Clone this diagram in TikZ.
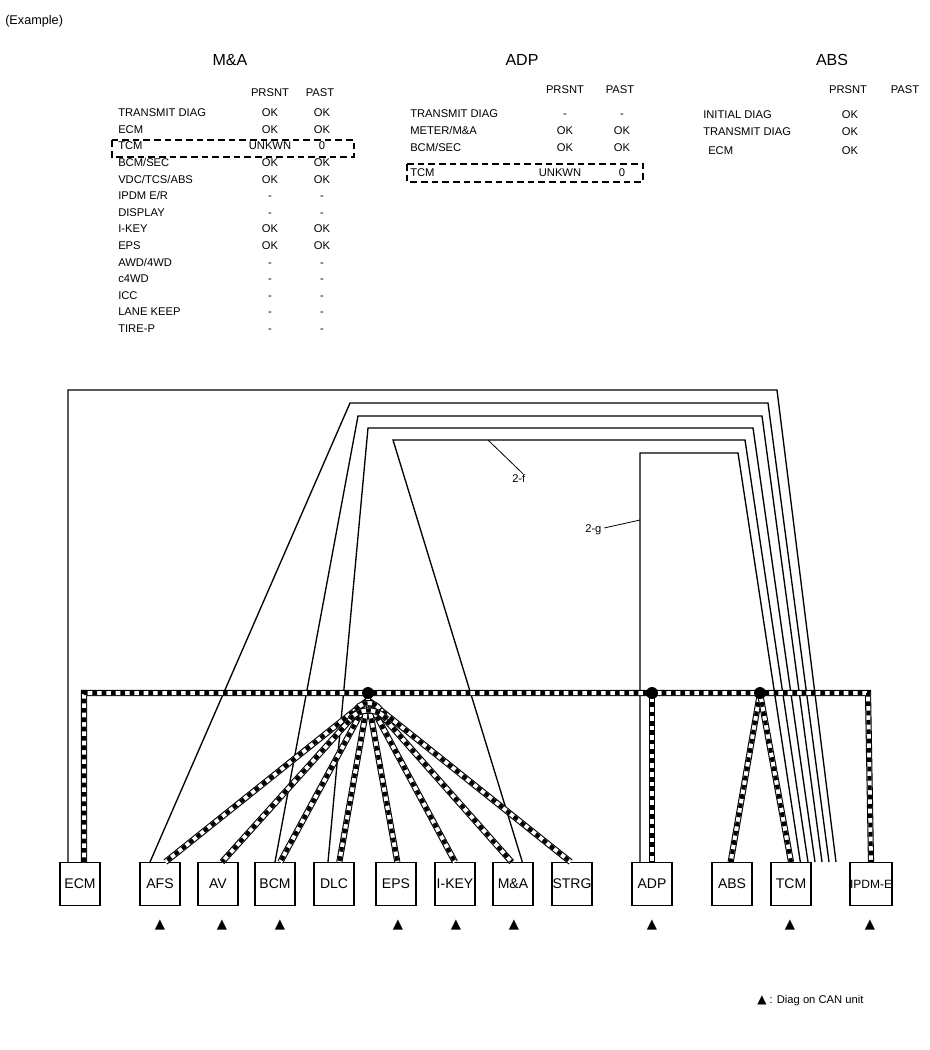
\documentclass[tikz,border=0pt]{standalone}
\usepackage{fontspec}
\setmainfont{Liberation Sans}
\newfontfamily\symf{DejaVu Sans}
\begin{document}
\begin{tikzpicture}[x=0.75pt,y=-0.75pt,
  tt/.style={font=\fontsize{8.4}{9}\selectfont,anchor=base west,inner sep=0},
  tc/.style={font=\fontsize{8.4}{9}\selectfont,anchor=base,inner sep=0},
  hd/.style={font=\fontsize{12}{13}\selectfont,anchor=base,inner sep=0},
  unit/.style={draw,line width=0.8pt,minimum width=30pt,minimum height=32pt,inner sep=0pt,font=\fontsize{10.5}{12}\selectfont},
  tri/.style={font=\symf\fontsize{10}{10}\selectfont,inner sep=0},
  wire/.style={line width=1pt},
  bus/.style={preaction={draw,black,line width=4.6pt},white,line width=3pt,
     postaction={draw,black,line width=3pt,dash pattern=on 3.5pt off 3.5pt}},
  dbox/.style={draw,line width=1.3pt,dash pattern=on 5pt off 3pt},
  dot/.style={circle,fill=black,inner sep=0,minimum size=9pt}]
\useasboundingbox (0,0) rectangle (930,1050);
\node[anchor=base west,inner sep=0,font=\fontsize{9.5}{11}\selectfont] (ex) at (5,24) {(Example)};
% M&A table
\node[hd] (hma) at (230,65) {M\&A};
\node[tc] (ma0a) at (270,96) {PRSNT}; \node[tc] (ma0b) at (320,96) {PAST};
\foreach \n/\a/\b [count=\i] in {{TRANSMIT DIAG}/OK/OK,ECM/OK/OK,TCM/UNKWN/0,{BCM/SEC}/OK/OK,{VDC/TCS/ABS}/OK/OK,{IPDM E/R}/-/-,DISPLAY/-/-,I-KEY/OK/OK,EPS/OK/OK,{AWD/4WD}/-/-,c4WD/-/-,ICC/-/-,LANE KEEP/-/-,TIRE-P/-/-}{
  \node[tt] (man\i) at (118,100+16.6*\i) {\n};
  \node[tc] (maa\i) at (270,100+16.6*\i) {\a};
  \node[tc] (mab\i) at (322,100+16.6*\i) {\b};}
\draw[dbox] (112,140) rectangle (354,157);
% ADP table
\node[hd] (hadp) at (522,65) {ADP};
\node[tc] (ad0a) at (565,93) {PRSNT}; \node[tc] (ad0b) at (620,93) {PAST};
\node[tt] (ad1) at (410,117) {TRANSMIT DIAG}; \node[tc] (ad1a) at (565,117) {-}; \node[tc] (ad1b) at (622,117) {-};
\node[tt] (ad2) at (410,134) {METER/M\&A}; \node[tc] (ad2a) at (565,134) {OK}; \node[tc] (ad2b) at (622,134) {OK};
\node[tt] (ad3) at (410,151) {BCM/SEC}; \node[tc] (ad3a) at (565,151) {OK}; \node[tc] (ad3b) at (622,151) {OK};
\node[tt] (ad4) at (410,176) {TCM}; \node[tc] (ad4a) at (560,176) {UNKWN}; \node[tc] (ad4b) at (622,176) {0};
\draw[dbox] (407,164) rectangle (643,182);
% ABS table
\node[hd] (habs) at (832,65) {ABS};
\node[tc] (ab0a) at (848,93) {PRSNT}; \node[tc] (ab0b) at (905,93) {PAST};
\node[tt] (ab1) at (703,118) {INITIAL DIAG}; \node[tc] (ab1a) at (850,118) {OK};
\node[tt] (ab2) at (703,135) {TRANSMIT DIAG}; \node[tc] (ab2a) at (850,135) {OK};
\node[tt] (ab3) at (708,154) {ECM}; \node[tc] (ab3a) at (850,154) {OK};
% units
\foreach \nm/\lab/\x in {ecm/ECM/80,afs/AFS/160,av/AV/218,bcm/BCM/275,dlc/DLC/334,eps/EPS/396,ikey/I-KEY/455,ma/M\&A/513,strg/STRG/572,adp/ADP/652,abs/ABS/732,tcm/TCM/791}{
  \node[unit,anchor=north] (\nm) at (\x,862) {\lab};}
\node[unit,anchor=north,font=\fontsize{9}{10}\selectfont] (ipdm) at (871,862) {IPDM-E};
\foreach \nm/\x in {afs/160,av/222,bcm/280,eps/398,ikey/456,ma/514,adp/652,tcm/790,ipdm/870}{
  \node[tri] (t\nm) at (\x,925) {▲};}
\node[anchor=west,inner sep=0,font=\fontsize{8.4}{9}\selectfont] (leg) at (757,1001) {{\symf\fontsize{9}{9}\selectfont ▲} : Diag on CAN unit};
% solid wires
\coordinate (w0a) at (68,390); \coordinate (w0b) at (777,390);
\draw[wire] ([xshift=-9pt]ecm.north) -- (w0a) -- (w0b) -- (836,862);
\draw[wire] ([xshift=-7.5pt]afs.north) -- (350,403) -- (768,403) -- (829,862);
\draw[wire] (bcm.north) -- (358,416) -- (762,416) -- (822,862);
\draw[wire] ([xshift=-4.5pt]dlc.north) -- (368,428) -- (753,428) -- (815,862);
\coordinate (l5) at (488,440);
\draw[wire] ([xshift=7pt]ma.north) -- (393,440) -- (l5) -- (745,440) -- (808,862);
\coordinate (l6) at (640,520);
\draw[wire] ([xshift=-9pt]adp.north) -- (l6) -- (640,453) -- (738,453) -- ([xshift=7pt]tcm.north);
\node[tt] (f) at (512,482) {2-f};
\draw[line width=0.6pt] (f.north) ++(3pt,0) -- (l5);
\node[tt] (g) at (585,532) {2-g};
\draw[line width=0.6pt] (g.east) ++(2pt,1pt) -- (l6);
% CAN bus
\coordinate (h1) at (368,693);
\coordinate (h2) at (652,693);
\coordinate (h3) at (760,693);
\draw[bus] ([xshift=3pt]ecm.north) -- (84,693) -- (868,693) -- (ipdm.north);
\draw[bus] (h2) -- (adp.north);
\draw[bus] (h3) -- ([xshift=-1pt]abs.north);
\draw[bus] (h3) -- (tcm.north);
\foreach \nm/\d in {afs/4,av/3,bcm/4,dlc/4,eps/1,ikey/0,ma/-1,strg/-1}{
  \draw[bus] (368,700) -- ([xshift=\d pt]\nm.north);}
\draw[bus] (h1) -- (368,700);
\draw[bus] (356,710) arc[start angle=210,end angle=330,radius=14];
\draw[bus] (350,719) arc[start angle=220,end angle=320,radius=24];
\node[dot] (d1) at (h1) {};
\node[dot] (d2) at (h2) {};
\node[dot] (d3) at (h3) {};
\end{tikzpicture}
\end{document}
